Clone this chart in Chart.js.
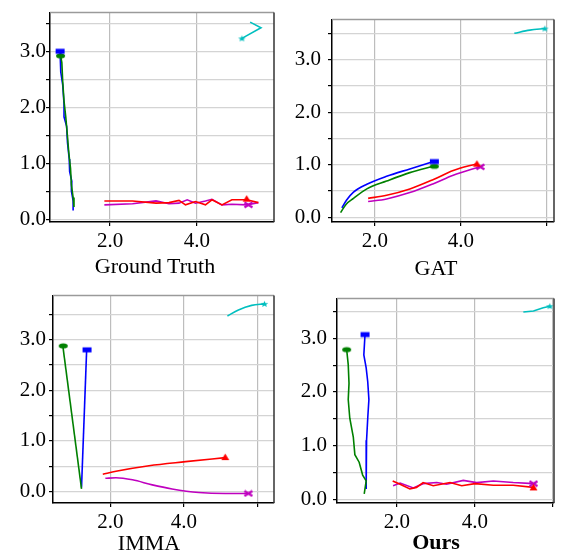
<!DOCTYPE html>
<html><head><meta charset="utf-8">
<script src="https://cdn.jsdelivr.net/npm/chart.js@4.4.1/dist/chart.umd.min.js"></script>
<style>
html,body{margin:0;padding:0;background:#fff;}
#fig{position:relative;width:561px;height:553px;overflow:hidden;background:#fff}
.panel{position:absolute}
.ttl{position:absolute;font-family:"Liberation Serif","Times New Roman",serif;font-size:22px;line-height:22px;color:#000;white-space:nowrap;transform:translateX(-50%)}
</style></head><body>
<div id="fig"></div>
<script>
// ---------------- data ----------------
const panelTitles = ['Ground Truth', 'GAT', 'IMMA', 'Ours'];
const yTickValues = [0, 0.5, 1, 1.5, 2, 2.5, 3, 3.5];
const yTickLabels = ['0.0', '', '1.0', '', '2.0', '', '3.0', ''];
const xTickValues = [2, 4, 6];
const xTickLabels = ['2.0', '4.0', ''];
const seriesNames = ['blue', 'green', 'red', 'magenta', 'cyan'];

// Ground Truth
const gtBlue = [[0.85,2.97],[0.87,2.86],[0.86,2.63],[0.91,2.40],[0.94,2.06],[0.94,1.83],[1.00,1.66],[1.02,1.37],[1.06,1.08],[1.07,0.85],[1.12,0.68],[1.11,0.51],[1.15,0.33],[1.15,0.16]];
const gtGreen = [[0.86,2.93],[0.89,2.80],[0.91,2.46],[0.94,2.11],[0.98,1.83],[1.02,1.48],[1.05,1.19],[1.09,0.91],[1.11,0.62],[1.15,0.39],[1.17,0.22]];
const gtRed = [[1.87,0.33],[2.52,0.33],[3.06,0.29],[3.36,0.30],[3.59,0.34],[3.74,0.26],[3.97,0.32],[4.20,0.26],[4.35,0.35],[4.58,0.26],[4.81,0.35],[5.15,0.35],[5.42,0.30]];
const gtMagenta = [[1.87,0.26],[2.52,0.28],[3.06,0.33],[3.36,0.28],[3.59,0.29],[3.78,0.35],[3.97,0.29],[4.20,0.33],[4.35,0.36],[4.58,0.26],[4.81,0.27],[5.15,0.26],[5.42,0.30]];
const gtCyan = [[5.23,3.52],[5.48,3.42],[5.04,3.23]];
const gtMarkers = [[0.85,3.00],[0.86,2.92],[5.15,0.37],[5.19,0.26],[5.04,3.23]];

// GAT
const gatBlue = [[1.23,0.18],[1.34,0.33],[1.50,0.48],[1.81,0.63],[2.27,0.78],[2.81,0.92],[3.36,1.06]];
const gatGreen = [[1.20,0.09],[1.33,0.25],[1.50,0.36],[1.81,0.54],[2.27,0.69],[2.81,0.85],[3.36,0.97]];
const gatRed = [[1.84,0.36],[2.27,0.42],[2.81,0.54],[3.36,0.72],[3.82,0.89],[4.37,1.02]];
const gatMagenta = [[1.84,0.30],[2.27,0.35],[2.81,0.47],[3.36,0.64],[3.82,0.80],[4.43,0.96]];
const gatCyan = [[5.24,3.50],[5.60,3.56],[5.95,3.59]];
const gatMarkers = [[3.38,1.06],[3.38,0.97],[4.37,1.02],[4.45,0.96],[5.95,3.59]];

// IMMA
const immaBlue = [[1.35,2.80],[1.21,0.08]];
const immaGreen = [[0.70,2.88],[1.21,0.05]];
const immaRed = [[1.79,0.34],[2.15,0.40],[3.05,0.51],[4.05,0.59],[5.13,0.67]];
const immaMagenta = [[1.86,0.26],[2.15,0.27],[2.60,0.23],[3.14,0.13],[3.68,0.05],[4.41,-0.02],[5.13,-0.04],[5.76,-0.04]];
const immaCyan = [[5.19,3.47],[5.49,3.59],[5.85,3.68],[6.20,3.71]];
const immaMarkers = [[1.36,2.80],[0.71,2.88],[5.13,0.68],[5.76,-0.04],[6.20,3.71]];

// Ours
const oursBlue = [[1.18,3.07],[1.15,2.69],[1.21,2.45],[1.25,2.19],[1.28,1.86],[1.25,1.51],[1.22,1.10],[1.21,0.69],[1.21,0.39],[1.21,0.19]];
const oursGreen = [[0.71,2.79],[0.75,2.51],[0.77,2.16],[0.75,1.86],[0.79,1.51],[0.88,1.16],[0.92,0.83],[1.03,0.69],[1.12,0.45],[1.21,0.34],[1.16,0.10]];
const oursRed = [[1.89,0.34],[2.08,0.28],[2.33,0.19],[2.50,0.22],[2.67,0.31],[2.93,0.25],[3.36,0.31],[3.66,0.25],[4.00,0.29],[4.47,0.26],[4.98,0.26],[5.50,0.22]];
const oursMagenta = [[1.90,0.25],[2.08,0.30],[2.42,0.21],[2.67,0.29],[3.02,0.31],[3.27,0.28],[3.70,0.35],[4.04,0.31],[4.47,0.34],[4.98,0.31],[5.50,0.29]];
const oursCyan = [[5.24,3.49],[5.50,3.51],[5.75,3.57],[5.92,3.60]];
const oursMarkers = [[1.18,3.07],[0.71,2.79],[5.50,0.22],[5.50,0.29],[5.92,3.60]];

// ---------------- styles / layout ----------------
const colors = {blue:'#0000ff', green:'#008000', red:'#ff0000', magenta:'#bf00bf', cyan:'#00bfbf'};
const shapes = {blue:'rect', green:'ellipse', red:'tri', magenta:'x', cyan:'star'};
const FONT = '"Liberation Serif","Times New Roman",serif';

const panels = [
  {series:[gtBlue,gtGreen,gtRed,gtMagenta,gtCyan], markers:gtMarkers, smooth:[0,0,0,0,0],
   box:{left:0,top:0,w:280,h:280}, area:{l:50,r:276,t:5,b:222}, xr:[0.617,5.78], yr:[-0.046,3.69], ypad:0,
   title:{cx:155, top:254.6, bold:false}},
  {series:[gatBlue,gatGreen,gatRed,gatMagenta,gatCyan], markers:gatMarkers, smooth:[1,1,1,1,1],
   box:{left:280,top:0,w:281,h:280}, area:{l:52,r:274,t:5,b:222}, xr:[1.0,6.163], yr:[-0.089,3.76], ypad:7,
   title:{cx:436, top:256.6, bold:false}},
  {series:[immaBlue,immaGreen,immaRed,immaMagenta,immaCyan], markers:immaMarkers, smooth:[0,0,1,1,1],
   box:{left:0,top:280,w:280,h:273}, area:{l:53,r:276,t:7,b:223}, xr:[0.432,6.46], yr:[-0.228,3.873], ypad:3,
   title:{cx:149, top:251.6, bold:false}},
  {series:[oursBlue,oursGreen,oursRed,oursMagenta,oursCyan], markers:oursMarkers, smooth:[0,0,0,0,0],
   box:{left:280,top:280,w:281,h:273}, area:{l:57,r:274,t:7,b:223}, xr:[0.462,6.026], yr:[-0.071,3.741], ypad:6,
   title:{cx:436, top:250.6, bold:true}}
];

function markerImg(shape, color){
  const c = document.createElement('canvas');
  c.width = 11; c.height = 8;
  const g = c.getContext('2d');
  g.fillStyle = color; g.strokeStyle = color;
  if (shape === 'rect') { g.fillRect(1,1.5,9,5); }
  else if (shape === 'ellipse') { g.beginPath(); g.ellipse(5.5,4,4.5,2.6,0,0,Math.PI*2); g.fill(); }
  else if (shape === 'tri') { g.beginPath(); g.moveTo(5.5,0.5); g.lineTo(9.5,7); g.lineTo(1.5,7); g.closePath(); g.fill(); }
  else if (shape === 'x') { g.lineWidth = 2.2; g.beginPath(); g.moveTo(1.5,1.5); g.lineTo(9.5,6.5); g.moveTo(9.5,1.5); g.lineTo(1.5,6.5); g.stroke(); }
  else if (shape === 'star') {
    g.beginPath();
    for (let i=0;i<10;i++){
      const r = i%2===0 ? 1 : 0.45;
      const a = -Math.PI/2 + i*Math.PI/5;
      const px = 5.5 + r*4*Math.cos(a), py = 4.3 + r*3.2*Math.sin(a);
      if (i===0) g.moveTo(px,py); else g.lineTo(px,py);
    }
    g.closePath(); g.fill();
  }
  return c;
}

const framePlugin = {
  id:'frame',
  afterDatasetsDraw(chart){
    const {ctx, chartArea:a} = chart;
    ctx.save();
    ctx.lineWidth = 1.5;
    ctx.strokeStyle = '#9a9a9a';
    ctx.beginPath(); ctx.moveTo(a.left, a.top); ctx.lineTo(a.right, a.top); ctx.stroke();
    ctx.strokeStyle = '#333333';
    ctx.beginPath(); ctx.moveTo(a.right, a.top); ctx.lineTo(a.right, a.bottom); ctx.stroke();
    ctx.restore();
  }
};

const fig = document.getElementById('fig');
panels.forEach((p, pi) => {
  const wrap = document.createElement('div');
  wrap.className = 'panel';
  wrap.style.left = p.box.left + 'px'; wrap.style.top = p.box.top + 'px';
  wrap.style.width = p.box.w + 'px'; wrap.style.height = p.box.h + 'px';
  const cv = document.createElement('canvas');
  cv.width = p.box.w; cv.height = p.box.h;
  cv.style.width = p.box.w + 'px'; cv.style.height = p.box.h + 'px';
  wrap.appendChild(cv);
  const t = document.createElement('div');
  t.className = 'ttl';
  t.textContent = panelTitles[pi];
  t.style.left = p.title.cx - p.box.left + 'px';
  t.style.top = p.title.top + 'px';
  if (p.title.bold) t.style.fontWeight = 'bold';
  wrap.appendChild(t);
  fig.appendChild(wrap);

  const datasets = [];
  // markers on top
  p.markers.forEach((m, si) => {
    const name = seriesNames[si];
    datasets.push({data:[{x:m[0], y:m[1]}], showLine:false, pointRadius:5, pointHoverRadius:5,
      pointStyle: markerImg(shapes[name], colors[name]), backgroundColor:colors[name], borderColor:colors[name]});
  });
  // lines: green drawn above blue
  const lineOrder = [1,0,2,3,4];
  lineOrder.forEach(si => {
    const name = seriesNames[si];
    const pts = p.series[si].map(d => ({x:d[0], y:d[1]}));
    datasets.push({data:pts, showLine:true, pointRadius:0, pointHoverRadius:0, borderColor:colors[name],
      backgroundColor:colors[name], borderWidth:1.6, fill:false,
      tension: p.smooth[si] ? 0.4 : 0, cubicInterpolationMode: p.smooth[si] ? 'monotone' : 'default'});
  });

  const ya = p.area, H = p.box.h, W = p.box.w;
  new Chart(cv, {
    type:'scatter',
    data:{datasets},
    plugins:[framePlugin],
    options:{
      responsive:false, animation:false, devicePixelRatio:1,
      layout:{padding:{left:0, top:ya.t, right:W - ya.r, bottom:0}},
      plugins:{legend:{display:false}, tooltip:{enabled:false}},
      scales:{
        x:{type:'linear', min:p.xr[0], max:p.xr[1],
          afterFit(s){ s.height = H - ya.b; },
          afterBuildTicks(s){ s.ticks = xTickValues.filter(v => v >= p.xr[0] && v <= p.xr[1]).map(v => ({value:v})); },
          ticks:{autoSkip:false, maxRotation:0, padding:3, color:'#000', font:{family:FONT, size:21},
            callback:(v) => { const i = xTickValues.indexOf(v); return i >= 0 ? xTickLabels[i] : ''; }},
          grid:{color:'#bdbdbd', lineWidth:1.2, tickLength:4, tickColor:'#000', tickWidth:1.2},
          border:{color:'#000', width:1.5}},
        y:{type:'linear', min:p.yr[0], max:p.yr[1],
          afterFit(s){ s.width = ya.l; },
          afterBuildTicks(s){ s.ticks = yTickValues.filter(v => v >= p.yr[0] && v <= p.yr[1]).map(v => ({value:v})); },
          ticks:{autoSkip:false, padding:p.ypad, color:'#000', font:{family:FONT, size:21},
            callback:(v) => { const i = yTickValues.indexOf(v); return i >= 0 ? yTickLabels[i] : ''; }},
          grid:{color:'#d4d4d4', lineWidth:1.2, tickLength:4, tickColor:'#000', tickWidth:1.2},
          border:{color:'#000', width:1.5}}
      }
    }
  });
});
</script>
</body></html>
